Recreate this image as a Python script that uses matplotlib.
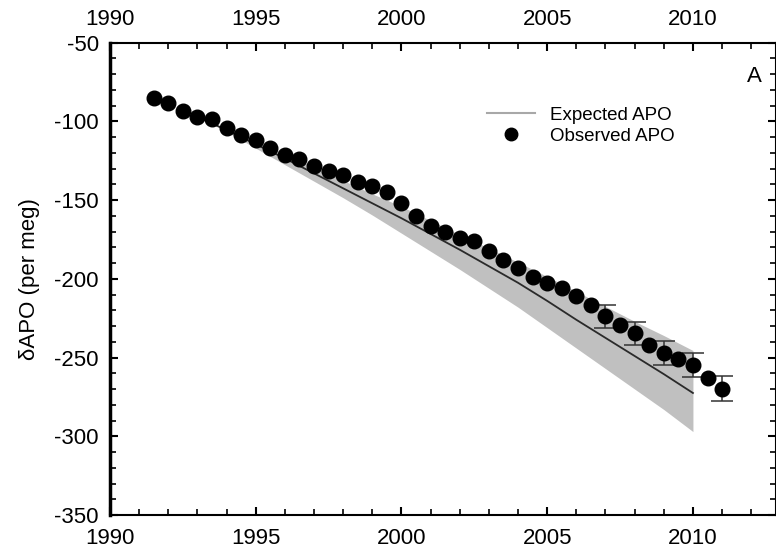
import numpy as np
import matplotlib
matplotlib.use("Agg")
import matplotlib.pyplot as plt
from matplotlib.ticker import MultipleLocator
from matplotlib.lines import Line2D

plt.rcParams['font.family'] = ['Liberation Sans', 'DejaVu Sans']
plt.rcParams['axes.unicode_minus'] = False

# observed APO, half-yearly
obs_year = np.arange(1991.5, 2011.01, 0.5)
obs_apo = [-85.3, -88.0, -93.1, -96.9, -98.6, -103.9, -108.5, -111.7, -116.6, -121.2,
           -123.9, -128.2, -131.8, -134.3, -138.5, -141.3, -145.1, -152.0, -160.3, -166.7,
           -170.2, -174.0, -176.2, -182.5, -188.2, -193.1, -199.0, -202.6, -205.8, -211.1,
           -216.8, -223.8, -229.6, -234.7, -242.3, -247.0, -250.8, -255.0, -262.8, -269.8]

# error bars on annual points 2007-2011
err_year = [2007, 2008, 2009, 2010, 2011]
err_apo = [-223.8, -234.7, -247.0, -255.0, -269.8]
err_size = [7.4, 7.4, 7.6, 7.6, 8.0]

# expected APO (line) and range (band)
exp_year = np.arange(1993, 2011)
exp_mid = [-97, -105.5, -114.5, -123.5, -133, -142.5, -152, -161.5, -171.5, -181.5,
           -192, -202.5, -214, -226, -237.5, -249, -260.5, -272.5]
exp_hi = [-97, -104.5, -112.5, -120.5, -129, -137.5, -146, -154, -163, -172,
          -180.5, -189.5, -198.5, -208, -217.5, -227, -236, -245.5]
exp_lo = [-97, -106.5, -117, -127.5, -138, -148.5, -159.5, -171, -182.5, -194,
          -206, -218, -231, -244, -257, -270, -283, -297]

fig = plt.figure(figsize=(7.76, 5.54), dpi=100)
ax = fig.add_axes([110/776, 1-515/554, 666/776, (515-42.7)/554])

ax.fill_between(exp_year, exp_lo, exp_hi, color='#c0c0c0', lw=0, zorder=1)
ax.plot(exp_year, exp_mid, color='#2a2a2a', lw=1.3, zorder=2)
ax.errorbar(err_year, err_apo, yerr=err_size, fmt='none', ecolor='#333333',
            elinewidth=1.1, capsize=8, capthick=1.1, zorder=3)
ax.plot(obs_year, obs_apo, 'o', color='black', ms=10.5, zorder=4)

ax.set_xlim(1990, 2012.85)
ax.set_ylim(-350, -50)
ax.xaxis.set_major_locator(MultipleLocator(5))
ax.xaxis.set_minor_locator(MultipleLocator(1))
ax.yaxis.set_major_locator(MultipleLocator(50))
ax.yaxis.set_minor_locator(MultipleLocator(10))
ax.tick_params(which='both', direction='in', top=True, right=True, labeltop=True,
               labelsize=16, colors='black')
ax.tick_params(axis='x', pad=9)
ax.tick_params(axis='y', pad=8)
ax.tick_params(which='major', length=6, width=1.5)
ax.tick_params(which='minor', length=4, width=1.2)
for s in ['bottom', 'top', 'right']:
    ax.spines[s].set_linewidth(1.5)
ax.spines['left'].set_linewidth(2.5)

ax.set_ylabel('δAPO (per meg)', fontsize=16, labelpad=10)

handles = [Line2D([], [], color='#a8a8a8', lw=1.5),
           Line2D([], [], marker='o', ls='none', color='black', ms=9)]
ax.legend(handles, ['Expected APO', 'Observed APO'], loc='upper left',
          bbox_to_anchor=(0.54, 0.9), frameon=False, fontsize=13.5,
          handlelength=2.6, handletextpad=0.8, labelspacing=0.2)

ax.text(0.978, 0.95, 'A', transform=ax.transAxes, fontsize=16, ha='right', va='top')

fig.savefig('out.png', dpi=100)
